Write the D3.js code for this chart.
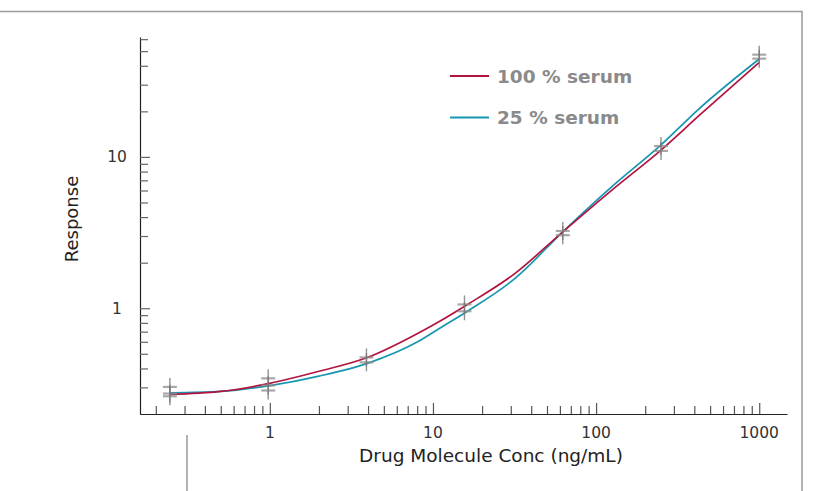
<!DOCTYPE html>
<html>
  <head>
    <meta charset="utf-8">
    <script type="text/javascript" src="https://cdn.jsdelivr.net/npm/d3@7/dist/d3.min.js"></script>
    <style media="screen">
    body{
      margin:0;
      background-color:#fff;
    }
    text{
      font-family:"DejaVu Sans",sans-serif;
    }
    </style>
    <title>Response curve</title>
  </head>
  <body>
    <div id="graph"></div>

    <script type="text/javascript">

    // curves
    var curveConc=[0.244,0.5,1,2,4,8,11,16,32,62.5,125,250,434,1000];
    var serum100=[0.269,0.282,0.319,0.383,0.474,0.678,0.82,1.047,1.706,3.2,6.04,11.1,19.0,42.1];
    var serum25=[0.276,0.282,0.308,0.356,0.434,0.598,0.738,0.945,1.58,3.2,6.36,12.0,21.1,44.4];

    // replicate points
    var pointConc=[0.244,0.977,3.91,15.6,62.5,250,1000];
    var rep1=[0.302,0.344,0.473,1.06,3.24,11.8,47.4];
    var rep2=[0.273,0.309,0.439,0.955,3.04,10.96,44.6];
    var rep3=[0.262,0.286,null,null,null,null,null];

    var xTickLabels=[1,10,100,1000];
    var yTickLabels=[1,10];
    var seriesNames=['100 % serum','25 % serum'];
    var seriesColors=['#b3143f','#1796b1'];

    var width=818;
    var height=491;
    var svg=d3.select('#graph').append('svg')
      .attr('width',width).attr('height',height);

    var x=d3.scaleLog().domain([0.16,1480]).range([140,787]);
    var y=d3.scaleLog().domain([0.2,62]).range([414,37]);

    // frame
    svg.append('path')
      .attr('d','M0,11.5H802V491M187,435V491')
      .attr('fill','none').attr('stroke','#9a9a9a').attr('stroke-width',1.5);

    // tick values (1..9 per decade inside domain)
    function decadeTicks(lo,hi){
      var t=[];
      for(var p=-1;p<=3;p++){
        for(var k=1;k<10;k++){
          var v=k*Math.pow(10,p);
          if(v>lo*1.0001&&v<=hi) t.push(+v.toPrecision(3));
        }
      }
      return t;
    }
    function isMajor(v){
      var l=Math.log10(v);
      return Math.abs(l-Math.round(l))<1e-6;
    }

    var xAxis=d3.axisTop(x).tickValues(decadeTicks(0.16,1000))
      .tickSize(8).tickSizeOuter(0).tickFormat('');
    var gx=svg.append('g').attr('transform','translate(0,414)').call(xAxis);
    gx.select('.domain').attr('stroke','#222').attr('stroke-width',1.2);
    gx.selectAll('.tick line').attr('stroke','#555').attr('stroke-width',1.2)
      .attr('y2',function(d){return isMajor(d)?-11:-8;});

    var yAxis=d3.axisRight(y).tickValues(decadeTicks(0.2,62))
      .tickSize(8).tickSizeOuter(0).tickFormat('');
    var gy=svg.append('g').attr('transform','translate(140,0)').call(yAxis);
    gy.select('.domain').attr('stroke','#222').attr('stroke-width',1.2);
    gy.selectAll('.tick line').attr('stroke','#666').attr('stroke-width',1.2)
      .attr('x2',function(d){return isMajor(d)?10:8;});

    // tick labels
    svg.selectAll('text.xlab').data(xTickLabels).enter().append('text')
      .attr('class','xlab')
      .attr('x',function(d){return x(d);})
      .attr('y',438)
      .attr('text-anchor','middle')
      .attr('font-size',15.5)
      .attr('fill','#333')
      .text(function(d){return d;});

    svg.selectAll('text.ylab').data(yTickLabels).enter().append('text')
      .attr('class','ylab')
      .attr('x',117)
      .attr('y',function(d){return y(d)+5.5;})
      .attr('text-anchor','middle')
      .attr('font-size',15.5)
      .attr('fill','#333')
      .text(function(d){return d;});

    // axis titles
    svg.append('text')
      .attr('x',491).attr('y',462)
      .attr('text-anchor','middle')
      .attr('font-size',18.5)
      .attr('fill','#222')
      .text('Drug Molecule Conc (ng/mL)');

    svg.append('text')
      .attr('transform','translate(78,219) rotate(-90)')
      .attr('text-anchor','middle')
      .attr('font-size',18)
      .attr('fill','#222')
      .text('Response');

    // curves
    var line=d3.line()
      .x(function(d){return x(d[0]);})
      .y(function(d){return y(d[1]);})
      .curve(d3.curveMonotoneX);

    [serum25,serum100].forEach(function(vals,i){
      var c=i===0?seriesColors[1]:seriesColors[0];
      svg.append('path')
        .datum(curveConc.map(function(v,j){return [v,vals[j]];}))
        .attr('d',line)
        .attr('fill','none')
        .attr('stroke',c)
        .attr('stroke-width',1.7);
    });

    // replicate markers
    var reps=[];
    [rep1,rep2,rep3].forEach(function(r){
      r.forEach(function(v,j){
        if(v!==null) reps.push({c:pointConc[j],v:v});
      });
    });
    var mk=svg.selectAll('g.mk').data(reps).enter().append('g')
      .attr('class','mk')
      .attr('transform',function(d){return 'translate('+x(d.c)+','+y(d.v)+')';});
    mk.append('path').attr('d','M-7,0H7')
      .attr('stroke','#8c8c8c').attr('stroke-width',2.2).attr('opacity',0.75);
    mk.append('path').attr('d','M0,-9V9')
      .attr('stroke','#777').attr('stroke-width',1.4).attr('opacity',0.8);

    // legend
    var leg=svg.selectAll('g.leg').data(seriesNames).enter().append('g')
      .attr('class','leg')
      .attr('transform',function(d,i){return 'translate(450,'+(76+i*41.5)+')';});
    leg.append('line')
      .attr('x1',0).attr('x2',39).attr('y1',0).attr('y2',0)
      .attr('stroke',function(d,i){return seriesColors[i];})
      .attr('stroke-width',1.8);
    leg.append('text')
      .attr('x',47).attr('y',6.5)
      .attr('font-size',18.5)
      .attr('font-weight','bold')
      .attr('fill','#8a8a8a')
      .text(function(d){return d;});

    </script>
  </body>
</html>
